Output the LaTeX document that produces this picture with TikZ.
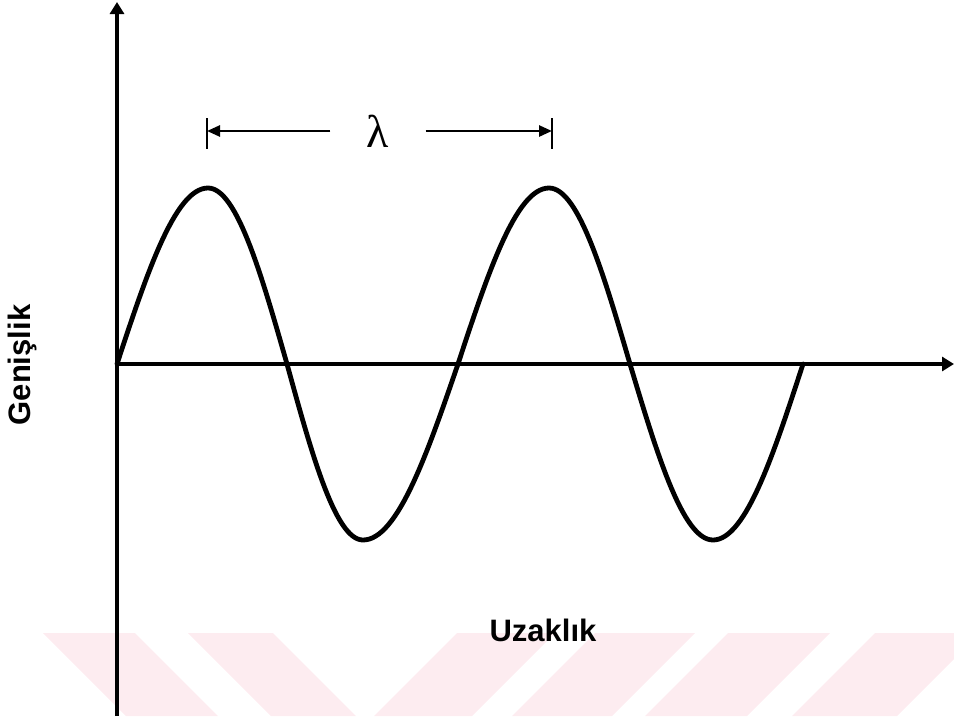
\documentclass[tikz,border=0pt]{standalone}
\usepackage{fontspec}
\setsansfont{Liberation Sans}
\newfontfamily\greekfont{Liberation Serif}
\usepackage{tikz}
\usetikzlibrary{positioning, arrows.meta}

\definecolor{wmpink}{RGB}{253,236,240}

\begin{document}
\begin{tikzpicture}[
    x=1pt, y=-1pt,
    axis/.style={line width=3.5pt, -{Triangle[length=12pt,width=14pt]}},
    wave/.style={line width=4.8pt, line cap=round, line join=round},
    dimline/.style={line width=2.6pt, -{Triangle[length=13pt,width=11pt]}},
    dimbar/.style={line width=1.8pt},
    lbl/.style={font=\sffamily\bfseries\fontsize{31}{34}\selectfont, inner sep=0pt},
    band/.style={fill=wmpink, draw=none},
]
\useasboundingbox (0,0) rectangle (954,716);

% watermark stripes
\def\wmtop{633}
\def\wmbot{716}
\foreach \a/\b in {43/135, 188/273}
    \fill[band] (\a,\wmtop) -- (\b,\wmtop) -- (\b+83,\wmbot) -- (\a+83,\wmbot) -- cycle;
\foreach \a/\b in {457/555, 595/695, 728/830, 875/980}
    \fill[band] (\a,\wmtop) -- (\b,\wmtop) -- (\b-83,\wmbot) -- (\a-83,\wmbot) -- cycle;

% axes
\coordinate (O) at (117,364);
\coordinate (ybot) at (117,716);
\coordinate (ytop) at (117,2);
\coordinate (xend) at (954,364);
\draw[axis] (ybot) -- (ytop);
\draw[axis] (O) -- (xend);

% wave, quarter by quarter (x from/to, phase from/to)
\draw[wave] (O)
    \foreach \xa/\xb/\pa/\pb in {117/208/0/90, 208/287/90/180, 287/363/180/270, 363/458/270/360,
                                 458/549/360/450, 549/630/450/540, 630/713/540/630, 713/803/630/720} {
        -- plot[domain=\pa:\pb, samples=31] ({\xa+(\xb-\xa)*(\x-\pa)/90},{364-176*sin(\x)})
    };

% wavelength
\coordinate (lamL) at (207,131);
\coordinate (lamR) at (552,131);
\node[minimum width=95pt, inner sep=0pt, font=\greekfont\fontsize{46}{50}\selectfont] (lam) at (378,131) {λ};
\draw[dimbar] (lamL) ++(0,-13) -- ++(0,31);
\draw[dimbar] (lamR) ++(0,-13) -- ++(0,31);
\draw[dimline] (lam.west) -- (lamL);
\draw[dimline] (lam.east) -- (lamR);

% axis labels
\node[lbl, rotate=90] (ylab) at (22,365) {Genişlik};
\node[lbl] (xlab) at (543,630) {Uzaklık};

\end{tikzpicture}
\end{document}
